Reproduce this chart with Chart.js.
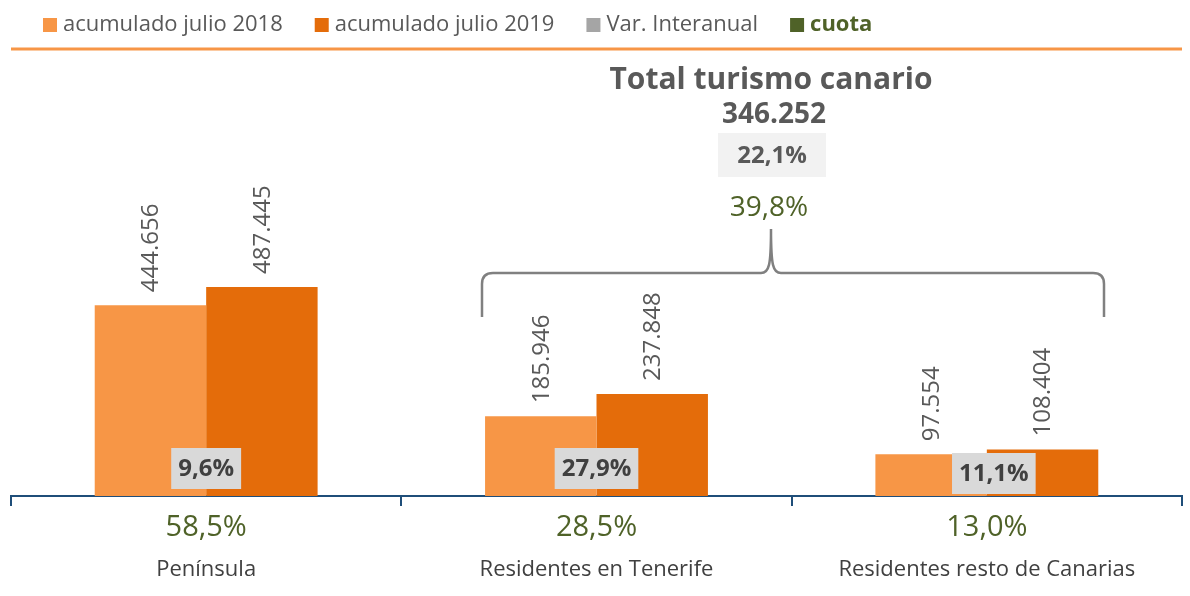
<!DOCTYPE html>
<html>
<head>
<meta charset="utf-8">
<script src="https://cdn.jsdelivr.net/npm/chart.js@4.4.1/dist/chart.umd.min.js"></script>
<style>
  body { margin: 0; background: #fff; }
  #wrap { width: 1190px; height: 596px; }
</style>
</head>
<body>
<div id="wrap"><canvas id="myChart" width="1190" height="596"></canvas></div>
<script>
const categories = ['Península', 'Residentes en Tenerife', 'Residentes resto de Canarias'];
const julio2018 = [444656, 185946, 97554];
const julio2019 = [487445, 237848, 108404];
const varInteranual = ['9,6%', '27,9%', '11,1%'];
const cuota = ['58,5%', '28,5%', '13,0%'];

const totalTitle = 'Total turismo canario';
const totalValue = '346.252';
const totalVar = '22,1%';
const totalCuota = '39,8%';

const legendItems = [
  { text: 'acumulado julio 2018', color: '#F79646', textColor: '#595959', bold: false },
  { text: 'acumulado julio 2019', color: '#E46C0A', textColor: '#595959', bold: false },
  { text: 'Var. Interanual', color: '#A5A5A5', textColor: '#595959', bold: false },
  { text: 'cuota', color: '#4F6228', textColor: '#4F6228', bold: true }
];

const FONT = "'Open Sans', 'Noto Sans', sans-serif";
const GREEN = '#4F6228';

function fmt(v) {
  return String(v).replace(/\B(?=(\d{3})+(?!\d))/g, '.');
}

const overlay = {
  id: 'overlay',
  afterDatasetsDraw(chart) {
    const ctx = chart.ctx;
    const xs = chart.scales.x;
    ctx.save();

    // legend
    let lx = 43;
    ctx.textBaseline = 'middle';
    ctx.textAlign = 'left';
    legendItems.forEach(it => {
      ctx.fillStyle = it.color;
      ctx.fillRect(lx, 18, 14, 14);
      ctx.font = (it.bold ? 'bold ' : '') + '22px ' + FONT;
      ctx.fillStyle = it.textColor;
      ctx.fillText(it.text, lx + 20, 25);
      lx += 20 + ctx.measureText(it.text).width + 32;
    });

    // orange rule under legend
    ctx.strokeStyle = '#F79646';
    ctx.lineWidth = 3;
    ctx.beginPath();
    ctx.moveTo(11, 49);
    ctx.lineTo(1182, 49);
    ctx.stroke();

    // rotated value labels
    ctx.fillStyle = '#595959';
    ctx.font = '24px ' + FONT;
    chart.data.datasets.forEach((ds, di) => {
      chart.getDatasetMeta(di).data.forEach((bar, i) => {
        ctx.save();
        ctx.translate(bar.x, bar.y - 13);
        ctx.rotate(-Math.PI / 2);
        ctx.textAlign = 'left';
        ctx.textBaseline = 'middle';
        ctx.fillText(fmt(ds.data[i]), 0, 1);
        ctx.restore();
      });
    });

    // variation boxes, cuota and category names
    const nudge = [[0, 0], [0, 0], [7, 5]];
    categories.forEach((c, i) => {
      const cx = xs.getPixelForValue(i);
      ctx.font = 'bold 24px ' + FONT;
      const w = ctx.measureText(varInteranual[i]).width + 14;
      const bx = cx + nudge[i][0];
      const by = 448 + nudge[i][1];
      ctx.fillStyle = '#D9D9D9';
      ctx.fillRect(bx - w / 2, by, w, 41);
      ctx.fillStyle = '#404040';
      ctx.textAlign = 'center';
      ctx.textBaseline = 'middle';
      ctx.fillText(varInteranual[i], bx, by + 21);

      ctx.font = '29px ' + FONT;
      ctx.fillStyle = GREEN;
      ctx.fillText(cuota[i], cx, 528);

      ctx.font = '22px ' + FONT;
      ctx.fillStyle = '#404040';
      ctx.fillText(c, cx, 570);
    });

    // total block
    const tx = 771;
    ctx.textAlign = 'center';
    ctx.textBaseline = 'middle';
    ctx.fillStyle = '#595959';
    ctx.font = 'bold 30px ' + FONT;
    ctx.fillText(totalTitle, tx, 80);
    ctx.font = 'bold 28px ' + FONT;
    ctx.fillText(totalValue, tx + 3, 115);
    ctx.fillStyle = '#F2F2F2';
    ctx.fillRect(718, 133, 108, 44);
    ctx.fillStyle = '#595959';
    ctx.font = 'bold 24px ' + FONT;
    ctx.fillText(totalVar, 772, 156);
    ctx.font = '28px ' + FONT;
    ctx.fillStyle = GREEN;
    ctx.fillText(totalCuota, 769, 208);

    // brace over Tenerife + resto
    ctx.strokeStyle = '#808080';
    ctx.lineWidth = 2.5;
    ctx.beginPath();
    ctx.moveTo(482, 317);
    ctx.lineTo(482, 284);
    ctx.quadraticCurveTo(482, 273, 493, 273);
    ctx.lineTo(761, 273);
    ctx.bezierCurveTo(769, 273, 771, 266, 771, 229);
    ctx.bezierCurveTo(771, 266, 773, 273, 781, 273);
    ctx.lineTo(1093, 273);
    ctx.quadraticCurveTo(1104, 273, 1104, 284);
    ctx.lineTo(1104, 317);
    ctx.stroke();

    ctx.restore();
  }
};

const data = {
  labels: categories,
  datasets: [{
    label: 'acumulado julio 2018',
    backgroundColor: '#F79646',
    data: julio2018
  }, {
    label: 'acumulado julio 2019',
    backgroundColor: '#E46C0A',
    data: julio2019
  }]
};

const config = {
  type: 'bar',
  data: data,
  options: {
    responsive: false,
    animation: false,
    datasets: {
      bar: {
        categoryPercentage: 0.571,
        barPercentage: 1.0
      }
    },
    layout: {
      padding: { left: 11, right: 8, top: 67, bottom: 90 }
    },
    scales: {
      x: {
        ticks: { display: false },
        grid: {
          drawOnChartArea: false,
          drawTicks: true,
          tickLength: 10,
          color: '#1F4E79',
          lineWidth: 2
        },
        border: { display: true, color: '#1F4E79', width: 2 }
      },
      y: {
        display: false,
        min: 0,
        max: 1000000
      }
    },
    plugins: {
      legend: { display: false },
      tooltip: { enabled: false }
    }
  },
  plugins: [overlay]
};

var myChart = new Chart(
  document.getElementById('myChart'),
  config
);
</script>
</body>
</html>
